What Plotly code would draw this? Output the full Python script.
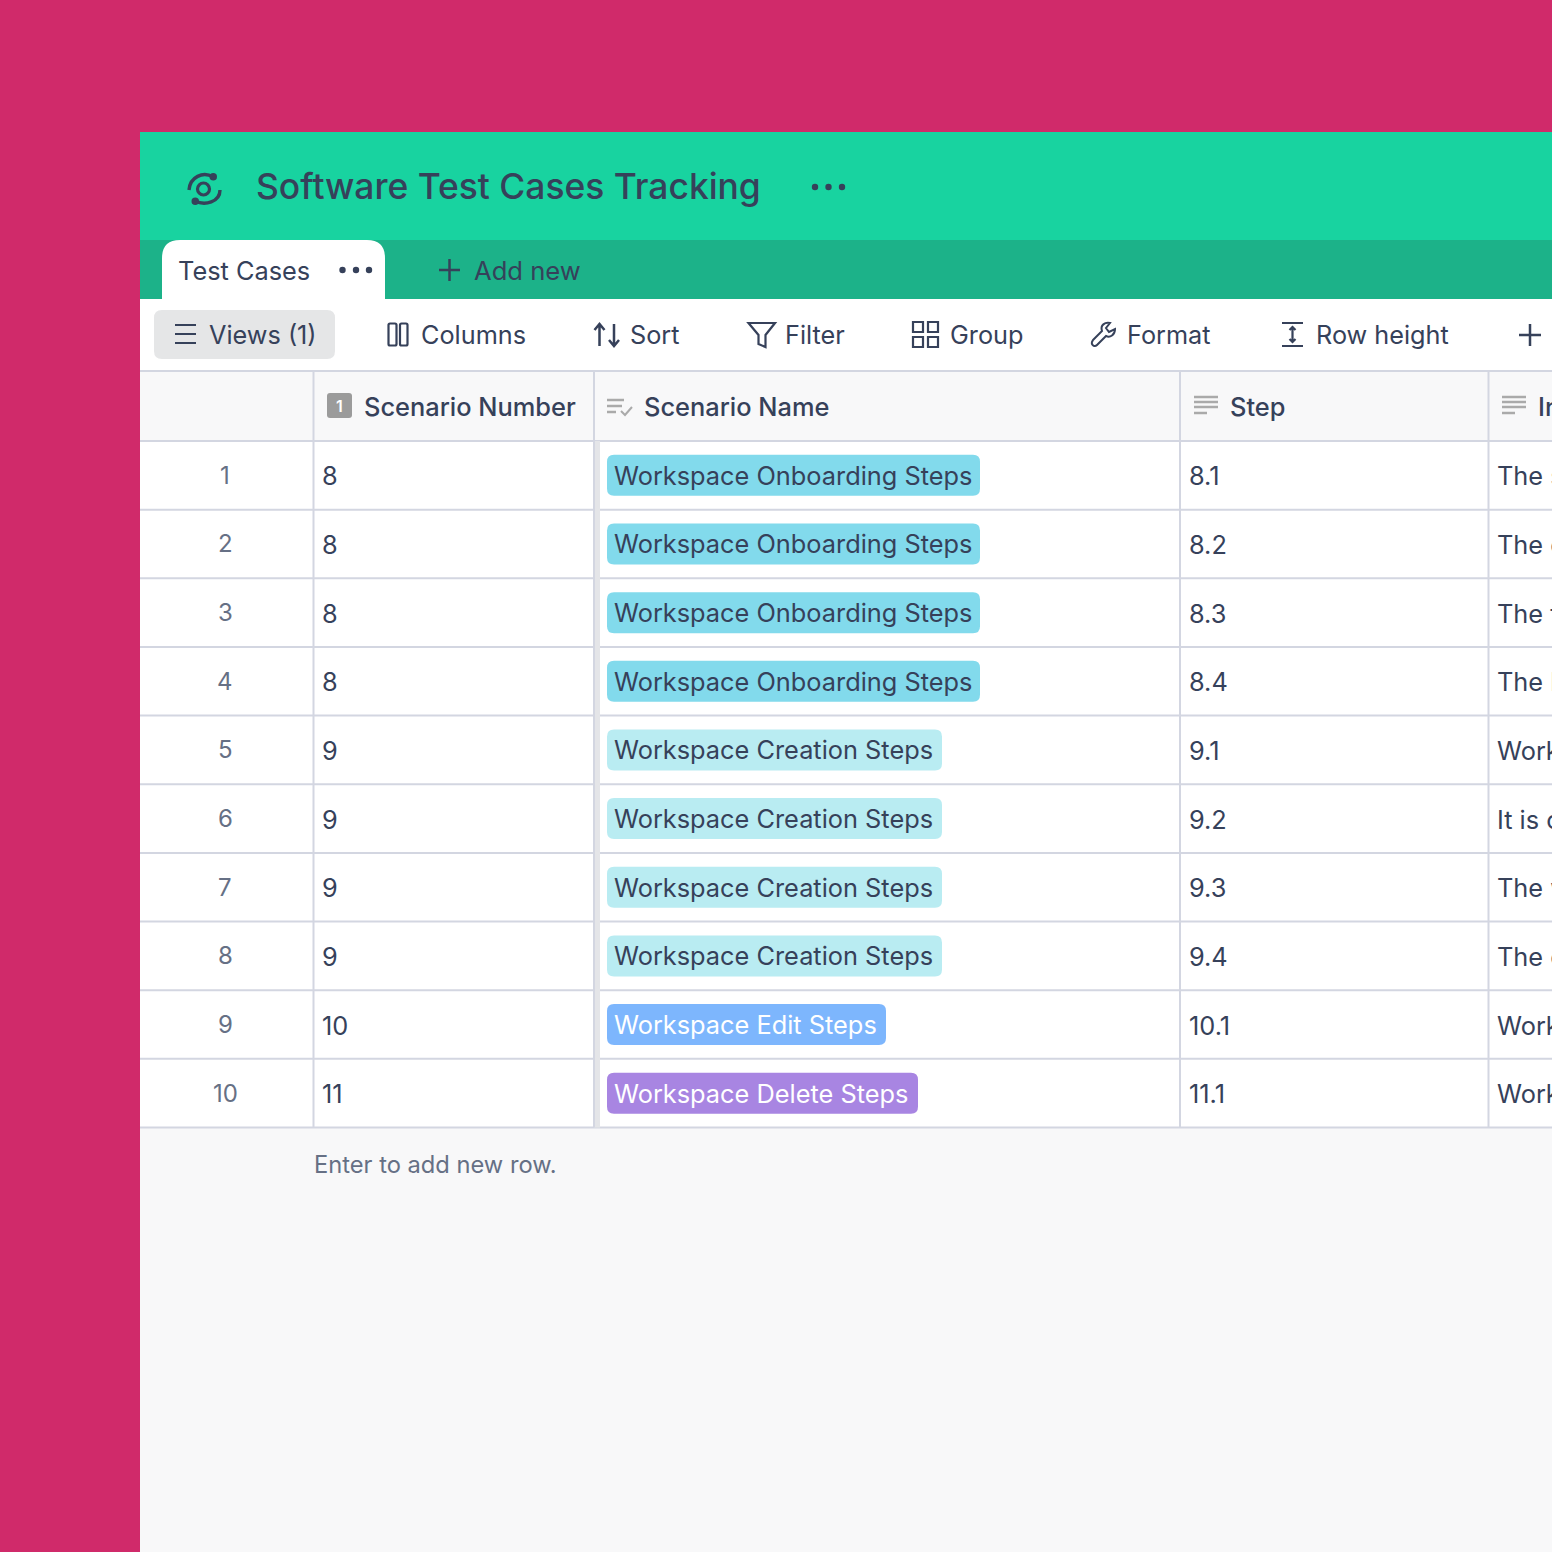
import plotly.graph_objects as go

# Table contents ------------------------------------------------------------ #
row_numbers = ["1", "2", "3", "4", "5", "6", "7", "8", "9", "10"]
scenario_numbers = ["8", "8", "8", "8", "9", "9", "9", "9", "10", "11"]
scenario_names = ["Workspace Onboarding Steps"] * 4 + ["Workspace Creation Steps"] * 4 + [
    "Workspace Edit Steps", "Workspace Delete Steps"]
steps = ["8.1", "8.2", "8.3", "8.4", "9.1", "9.2", "9.3", "9.4", "10.1", "11.1"]
instructions = ["The s", "The c", "The f", "The l", "Workspace", "It is c", "The w", "The c",
                "Workspace", "Workspace"]
toolbar_labels = ["Views (1)", "Columns", "Sort", "Filter", "Group", "Format", "Row height"]
column_headers = ["Scenario Number", "Scenario Name", "Step", "Instructions"]

# Look ---------------------------------------------------------------------- #
FONT = "Inter"
INK = "#36415a"
BORDER = "#d3d6e1"
PANEL = "#f8f8f9"
TOOLBAR_X = [208.5, 421, 630, 785, 949.5, 1127, 1315.5]
HEADER_X = [363.5, 644, 1230, 1538]
ROW_TOP = 441
ROW_H = 68.65
BODY = 25.35
CHIPS = {
    "Workspace Onboarding Steps": ("#82daec", 980, INK),
    "Workspace Creation Steps": ("#b9ecf2", 942, INK),
    "Workspace Edit Steps": ("#7db6fd", 886, "#ffffff"),
    "Workspace Delete Steps": ("#a885e2", 918, "#ffffff"),
}

shapes = []
annotations = []


def rect(x0, y0, x1, y1, color):
    shapes.append(dict(type="rect", x0=x0, y0=y0, x1=x1, y1=y1, fillcolor=color, line_width=0, layer="below"))


def rounded(x0, y0, x1, y1, r, color, bottom=True):
    d = f"M{x0},{y1 - (r if bottom else 0)} L{x0},{y0 + r} Q{x0},{y0} {x0 + r},{y0} L{x1 - r},{y0} Q{x1},{y0} {x1},{y0 + r} "
    if bottom:
        d += f"L{x1},{y1 - r} Q{x1},{y1} {x1 - r},{y1} L{x0 + r},{y1} Q{x0},{y1} {x0},{y1 - r} Z"
    else:
        d += f"L{x1},{y1} L{x0},{y1} Z"
    shapes.append(dict(type="path", path=d, fillcolor=color, line_width=0, layer="below"))


def stroke(d, color=INK, width=2.2):
    shapes.append(dict(type="path", path=d, line=dict(color=color, width=width), layer="above"))


def dots(xs, y, r=3.2):
    for x in xs:
        shapes.append(dict(type="circle", x0=x - r, x1=x + r, y0=y - r, y1=y + r, fillcolor=INK, line_width=0))


def label(x, y, text, size=BODY, color=INK, anchor="left", weight=400):
    annotations.append(dict(x=x, y=y, text=text, showarrow=False, xanchor=anchor, yanchor="middle",
                            font=dict(family=FONT, size=size, color=color, weight=weight),
                            borderpad=0, borderwidth=0))


# Page blocks
rect(140, 132, 1552, 240, "#18d3a0")
rect(140, 240, 1552, 299, "#1cb289")
rect(140, 299, 1552, 371, "#ffffff")
rect(140, 371, 1552, 441, PANEL)
rect(140, 441, 1552, ROW_TOP + ROW_H * len(row_numbers), "#ffffff")
rect(140, ROW_TOP + ROW_H * len(row_numbers), 1552, 1552, PANEL)
rounded(162, 240, 385, 299, 18, "#ffffff", bottom=False)
rounded(154, 310, 335, 359, 8, "#e5e6e7")

# Title bar
label(255.5, 186, "Software Test Cases Tracking", size=35.4, weight=500)
dots([815, 828.5, 842], 187)
stroke("M213,177 C203,171 190,177 189,190", width=3.4)
stroke("M195,201 C205,206 220,202 220,190", width=3.4)
shapes.append(dict(type="circle", x0=197.5, x1=209.5, y0=183, y1=195, line=dict(color=INK, width=3.2)))
shapes.append(dict(type="circle", x0=209.5, x1=217, y0=173, y1=180.5, fillcolor=INK, line_width=0))
shapes.append(dict(type="circle", x0=191.5, x1=199, y0=197.5, y1=205, fillcolor=INK, line_width=0))

# Tabs
label(177.5, 270.5, "Test Cases")
dots([342.5, 356, 369], 270)
stroke("M449.5,259 L449.5,281 M439,270 L460,270", width=2.5)
label(473.5, 270, "Add new", size=25.6)

# Toolbar
for x, text in zip(TOOLBAR_X, toolbar_labels):
    label(x, 334.5, text, size=25.25)
stroke("M175,325 L196,325 M175,334 L196,334 M175,343 L196,343")
stroke("M388.5,325 Q388.5,323.5 390,323.5 L395,323.5 Q396.5,323.5 396.5,325 L396.5,344 Q396.5,345.5 395,345.5 L390,345.5 Q388.5,345.5 388.5,344 Z "
       "M400,325 Q400,323.5 401.5,323.5 L406,323.5 Q407.5,323.5 407.5,325 L407.5,344 Q407.5,345.5 406,345.5 L401.5,345.5 Q400,345.5 400,344 Z")
stroke("M599.5,346 L599.5,324 M594.5,330 L599.5,324 L604.5,330 M614,324 L614,346 M609,340 L614,346 L619,340", width=2.5)
stroke("M748.5,323 L775,323 L765.5,335 L765.5,347 L758.5,344 L758.5,335 Z")
for x0, x1 in [(913, 923), (928, 938)]:
    for y0, y1 in [(322, 332), (337, 347)]:
        shapes.append(dict(type="rect", x0=x0, x1=x1, y0=y0, y1=y1, line=dict(color=INK, width=2.2)))
stroke("M1093,340 L1102,331 C1100,325 1105,322 1110,323 L1106,328 L1109,332 L1115,329 "
       "C1115,335 1110,338 1106,336 L1097,345 C1094,348 1090,344 1093,340 Z", width=2)
stroke("M1282,323 L1303,323 M1282,346 L1303,346 M1292.5,327 L1292.5,342 M1289.5,330 L1292.5,327 L1295.5,330 M1289.5,339 L1292.5,342 L1295.5,339")
stroke("M1530,324 L1530,346 M1519,335 L1541,335", width=2.5)

# Grid
for i in range(len(row_numbers) + 1):
    y = ROW_TOP + ROW_H * i
    rect(140, y - 1, 1552, y + 1, BORDER)
rect(140, 370, 1552, 372, BORDER)
bottom = ROW_TOP + ROW_H * len(row_numbers)
rect(594, 441, 600, bottom, "#e4e5e8")
for x in [313.5, 594, 1180, 1488.5]:
    rect(x - 1, 371, x + 1, bottom, BORDER)

# Header row
for x, text in zip(HEADER_X, column_headers):
    label(x, 406, text, size=25.4, weight=500)
rounded(327, 393, 352, 418, 3, "#9b9b9b")
label(339.5, 405.5, "1", size=16, color="#ffffff", anchor="center", weight=600)
stroke("M607,400 L624,400 M607,406 L622,406 M607,412 L616,412", color="#aaaaaa", width=2.4)
stroke("M621,411 L625,415 L632,407", color="#aaaaaa", width=2)
for x in [1194, 1502]:
    stroke(f"M{x},397 L{x + 24},397 M{x},402 L{x + 24},402 M{x},407 L{x + 24},407 M{x},413 L{x + 13},413",
           color="#aaaaaa", width=2.6)

# Rows
for i, num in enumerate(row_numbers):
    y = ROW_TOP + ROW_H * (i + 0.5)
    label(225, y, num, size=24, color="#667085", anchor="center")
    label(322, y + 0.5, scenario_numbers[i])
    fill, right, text_color = CHIPS[scenario_names[i]]
    rounded(607, y - 20.5, right, y + 20.5, 7, fill)
    label(614, y, scenario_names[i], color=text_color)
    label(1189, y + 0.5, steps[i])
    label(1496.5, y + 0.5, instructions[i])

label(314, 1164, "Enter to add new row.", size=23.7, color="#667085")

fig = go.Figure()
fig.update_layout(
    width=1552, height=1552, margin=dict(l=0, r=0, t=0, b=0), showlegend=False,
    paper_bgcolor="#d02a6a", plot_bgcolor="#d02a6a",
    xaxis=dict(range=[0, 1552], visible=False, fixedrange=True),
    yaxis=dict(range=[1552, 0], visible=False, fixedrange=True),
    shapes=shapes, annotations=annotations,
)
fig.write_html("out.html", config={"displayModeBar": False}, post_script="document.body.style.margin='0';")
